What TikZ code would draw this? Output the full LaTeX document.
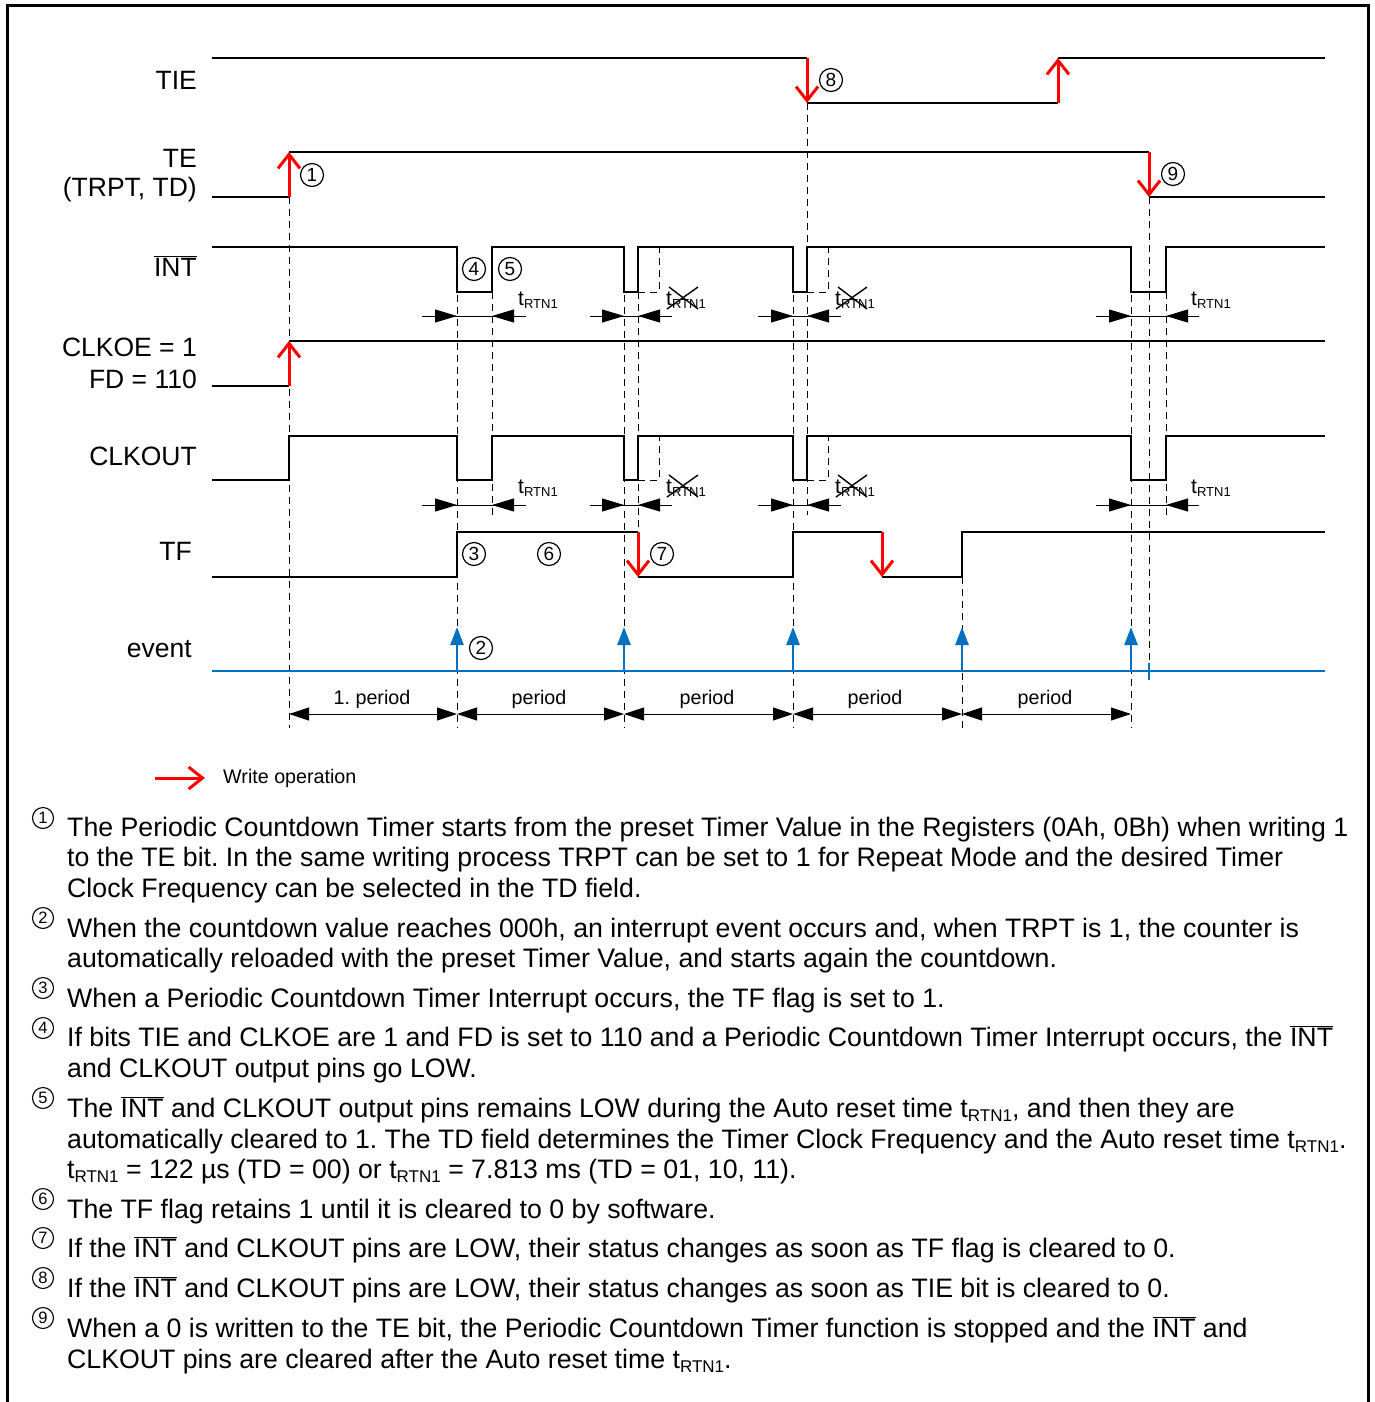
\documentclass[tikz,border=0pt]{standalone}
\usepackage{fontspec}
\setmainfont{Liberation Sans}
\usetikzlibrary{arrows.meta}
\definecolor{evblue}{HTML}{0070C0}
\definecolor{wred}{HTML}{FF0000}
\frenchspacing
\newcommand\ovl[1]{$\overline{\mbox{#1}}$}
\newcommand\trtn{t\raisebox{-3pt}{\fontsize{13}{13}\selectfont RTN1}}
\newcommand\trtnb{t\raisebox{-4pt}{\fontsize{17}{17}\selectfont RTN1}}
\begin{document}
\begin{tikzpicture}[x=1pt,y=-1pt,
 sig/.style={line width=2.6pt, line join=miter},
 dsh/.style={line width=0.9pt, dash pattern=on 7pt off 5pt},
 wr/.style={wred, line width=3pt, -{Straight Barb[length=14pt,width=22pt]}},
 ev/.style={evblue, line width=2.6pt, -{Triangle[length=18pt,width=13pt]}},
 dim/.style={line width=0.9pt, -{Triangle[length=22pt,width=13pt]}},
 lbl/.style={font=\fontsize{26.5}{30}\selectfont, anchor=east, inner sep=0pt},
 small/.style={font=\fontsize{19.7}{22}\selectfont, inner sep=0pt},
 cn/.style={circle, draw, line width=1.2pt, minimum size=23pt, inner sep=0pt, font=\fontsize{19}{19}\selectfont},
 cb/.style={circle, draw, line width=1.1pt, minimum size=21pt, inner sep=0pt, font=\fontsize{16.5}{16.5}\selectfont},
 body/.style={font=\fontsize{26.7}{30}\selectfont, anchor=base west, inner sep=0pt},
 tr/.style={font=\fontsize{21}{22}\selectfont, anchor=base west, inner sep=0pt},
]
\useasboundingbox (0,0) rectangle (1375,1402);
% frame
\draw[line width=3pt] (7.5,1402) -- (7.5,5.5) -- (1368.5,5.5) -- (1368.5,1402);

% dashed guide lines
\draw[dsh] (289,197) -- (289,728);
\draw[dsh] (457,247) -- (457,728);
\draw[dsh] (624,247) -- (624,728);
\draw[dsh] (793,247) -- (793,728);
\draw[dsh] (962,577) -- (962,728);
\draw[dsh] (1131,247) -- (1131,728);
\draw[dsh] (492,292) -- (492,515);
\draw[dsh] (638,292) -- (638,532);
\draw[dsh] (807,103) -- (807,515);
\draw[dsh] (1166,292) -- (1166,515);
\draw[dsh] (1149,197) -- (1149,680);
\draw[dsh] (638,292) -- (659,292) -- (659,247);
\draw[dsh] (807,292) -- (828,292) -- (828,247);
\draw[dsh] (638,480) -- (659,480) -- (659,436);
\draw[dsh] (807,480) -- (828,480) -- (828,436);

% labels
\node[lbl] (lTIE) at (197,80) {TIE};
\node[lbl] (lTE) at (197,158) {TE};
\node[lbl] (lTRPT) at (197,190) {(TRPT, TD)};
\node[lbl] (lINT) at (197,266) {\ovl{INT}};
\node[lbl] (lCLKOE) at (197,347) {CLKOE = 1};
\node[lbl] (lFD) at (197,379) {FD = 110};
\node[lbl] (lCLKOUT) at (197,456) {CLKOUT};
\node[lbl] (lTF) at (192,551) {TF};
\node[lbl] (lev) at (192,649) {event};

% TIE
\draw[sig] (212,58) -- (807,58);
\draw[sig] (807,103) -- (1058,103);
\draw[sig] (1058,58) -- (1325,58);
\draw[wr] (807,58) -- (807,103);
\draw[wr] (1058,103) -- (1058,58);
% TE
\draw[sig] (212,197) -- (289,197);
\draw[sig] (289,152) -- (1149,152);
\draw[sig] (1149,197) -- (1325,197);
\draw[wr] (289,197) -- (289,152);
\draw[wr] (1149,152) -- (1149,197);
% INT
\draw[sig] (212,247) -- (457,247) -- (457,292) -- (492,292) -- (492,247) -- (624,247) -- (624,292) -- (638,292) -- (638,247) -- (793,247) -- (793,292) -- (807,292) -- (807,247) -- (1131,247) -- (1131,292) -- (1166,292) -- (1166,247) -- (1325,247);
% CLKOE
\draw[sig] (212,386) -- (289,386);
\draw[sig] (289,341) -- (1325,341);
\draw[wr] (289,386) -- (289,341);
% CLKOUT
\draw[sig] (212,480) -- (289,480) -- (289,436) -- (457,436) -- (457,480) -- (492,480) -- (492,436) -- (624,436) -- (624,480) -- (638,480) -- (638,436) -- (793,436) -- (793,480) -- (807,480) -- (807,436) -- (1131,436) -- (1131,480) -- (1166,480) -- (1166,436) -- (1325,436);
% TF
\draw[sig] (212,577) -- (457,577) -- (457,532) -- (638,532);
\draw[sig] (638,577) -- (793,577) -- (793,532) -- (882,532);
\draw[sig] (882,577) -- (962,577) -- (962,532) -- (1325,532);
\draw[wr] (638,532) -- (638,577);
\draw[wr] (882,532) -- (882,577);
% event
\draw[evblue, line width=2.6pt] (212,671) -- (1325,671);
\foreach \x in {457,624,793,962,1131} \draw[ev] (\x,671) -- (\x,627);
\draw[evblue, line width=2.6pt] (1149,663) -- (1149,680);

% tRTN1 dimension arrows
\foreach \y in {316,505} {
 \draw[line width=0.9pt] (422,\y) -- (526,\y);
 \draw[dim] (422,\y) -- (457,\y); \draw[dim] (526,\y) -- (492,\y);
 \draw[line width=0.9pt] (590,\y) -- (672,\y);
 \draw[dim] (590,\y) -- (624,\y); \draw[dim] (672,\y) -- (638,\y);
 \draw[line width=0.9pt] (758,\y) -- (841,\y);
 \draw[dim] (758,\y) -- (793,\y); \draw[dim] (841,\y) -- (807,\y);
 \draw[line width=0.9pt] (1096,\y) -- (1199,\y);
 \draw[dim] (1096,\y) -- (1131,\y); \draw[dim] (1199,\y) -- (1166,\y);
}
\node[tr] (t1) at (518,305) {\trtn};
\node[tr] (t2) at (666,305) {\trtn};
\node[tr] (t3) at (835,305) {\trtn};
\node[tr] (t4) at (1191,305) {\trtn};
\node[tr] (t5) at (518,493) {\trtn};
\node[tr] (t6) at (666,493) {\trtn};
\node[tr] (t7) at (835,493) {\trtn};
\node[tr] (t8) at (1191,493) {\trtn};
\foreach \dx/\dy in {0/0,169/0,0/188,169/188} {
 \draw[line width=1.4pt] (667+\dx,309+\dy) -- (698+\dx,287+\dy);
 \draw[line width=1.4pt] (669+\dx,287+\dy) -- (698+\dx,309+\dy);
}

% period arrows
\foreach \a/\b in {289/457,457/624,624/793,793/962,962/1131}
 \draw[line width=0.9pt, {Triangle[length=20pt,width=13pt]}-{Triangle[length=20pt,width=13pt]}] (\a,714) -- (\b,714);
\node[small] (p1) at (372,699) {1. period};
\node[small] (p2) at (539,699) {period};
\node[small] (p3) at (707,699) {period};
\node[small] (p4) at (875,699) {period};
\node[small] (p5) at (1045,699) {period};

% circled numbers
\node[cn] (c1) at (312,175) {1};
\node[cn] (c2) at (481,648) {2};
\node[cn] (c3) at (474,554) {3};
\node[cn] (c4) at (474,269) {4};
\node[cn] (c5) at (510,269) {5};
\node[cn] (c6) at (549,554) {6};
\node[cn] (c7) at (662,554) {7};
\node[cn] (c8) at (831,80) {8};
\node[cn] (c9) at (1173,174) {9};

% legend
\draw[wr] (155,778) -- (205,778);
\node[small, anchor=west] (lw) at (223,778) {Write operation};

% notes
\foreach \n/\y in {1/818,2/918,3/988,4/1028,5/1098,6/1199,7/1238,8/1278,9/1318}
 \node[cb] (b\n) at (43,\y) {\n};
\node[body] (n1a) at (67,836) {The Periodic Countdown Timer starts from the preset Timer Value in the Registers (0Ah, 0Bh) when writing 1};
\node[body] (n1b) at (67,866) {to the TE bit. In the same writing process TRPT can be set to 1 for Repeat Mode and the desired Timer};
\node[body] (n1c) at (67,897) {Clock Frequency can be selected in the TD field.};
\node[body] (n2a) at (67,937) {When the countdown value reaches 000h, an interrupt event occurs and, when TRPT is 1, the counter is};
\node[body] (n2b) at (67,967) {automatically reloaded with the preset Timer Value, and starts again the countdown.};
\node[body] (n3a) at (67,1007) {When a Periodic Countdown Timer Interrupt occurs, the TF flag is set to 1.};
\node[body] (n4a) at (67,1046) {If bits TIE and CLKOE are 1 and FD is set to 110 and a Periodic Countdown Timer Interrupt occurs, the \ovl{INT}};
\node[body] (n4b) at (67,1077) {and CLKOUT output pins go LOW.};
\node[body] (n5a) at (67,1117) {The \ovl{INT} and CLKOUT output pins remains LOW during the Auto reset time \trtnb, and then they are};
\node[body] (n5b) at (67,1148) {automatically cleared to 1. The TD field determines the Timer Clock Frequency and the Auto reset time \trtnb.};
\node[body] (n5c) at (67,1178) {\trtnb{} = 122 µs (TD = 00) or \trtnb{} = 7.813 ms (TD = 01, 10, 11).};
\node[body] (n6a) at (67,1218) {The TF flag retains 1 until it is cleared to 0 by software.};
\node[body] (n7a) at (67,1257) {If the \ovl{INT} and CLKOUT pins are LOW, their status changes as soon as TF flag is cleared to 0.};
\node[body] (n8a) at (67,1297) {If the \ovl{INT} and CLKOUT pins are LOW, their status changes as soon as TIE bit is cleared to 0.};
\node[body] (n9a) at (67,1337) {When a 0 is written to the TE bit, the Periodic Countdown Timer function is stopped and the \ovl{INT} and};
\node[body] (n9b) at (67,1368) {CLKOUT pins are cleared after the Auto reset time \trtnb.};
\end{tikzpicture}
\end{document}
